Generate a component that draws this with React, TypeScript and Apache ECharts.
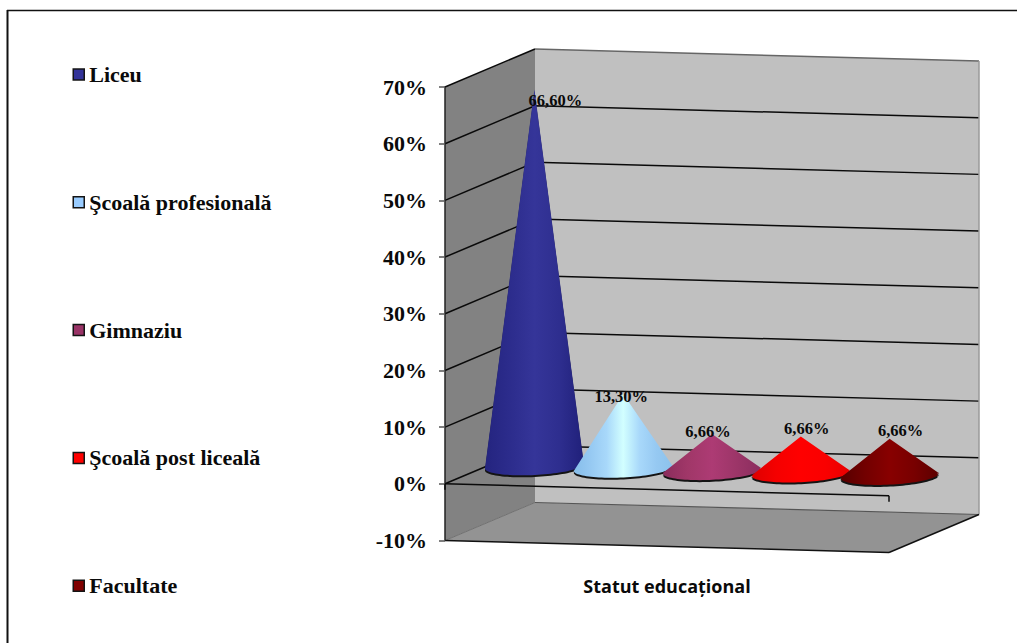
import React, { useEffect, useRef } from "react";
import * as echarts from "echarts";

const categories = ["Liceu", "Şcoală profesională", "Gimnaziu", "Şcoală post liceală", "Facultate"];
const values = [66.6, 13.3, 6.66, 6.66, 6.66];
const valueLabels = ["66,60%", "13,30%", "6,66%", "6,66%", "6,66%"];
const yTicks = [0, 10, 20, 30, 40, 50, 60];
const axisTitle = "Statut educațional";

const legendColors = ["#333399", "#99CCFF", "#993366", "#FF0000", "#800000"];
const coneStops = [
  ["#24247f", "#2c2c8c", "#353599", "#2e2e8f", "#20207a"],
  ["#86bdea", "#96c9f2", "#a8d8fa", "#d2ffff", "#a8d8fa", "#96c9f2", "#8cc2ec"],
  ["#8a2c5c", "#a03768", "#ad3b74", "#9c3568", "#8a2d5e"],
  ["#dd0000", "#f50000", "#ff0000", "#fa0000", "#e80000"],
  ["#560000", "#720000", "#880000", "#780000", "#5c0000"],
];
const labelShift = [[21, 11], [-2, 2], [-4, -3], [6, -8], [11, -8]];

const SERIF = '"Liberation Serif", "Times New Roman", serif';
const DEPTH_X = 90;
const DEPTH_Y = -38;
const SKEW = 12;
const CONE_RX = 49.5;
const CONE_RY = 9;
const CONE_TILT = -0.05;

function wallsRender(params: any, api: any) {
  const cs = params.coordSys;
  const L = cs.x;
  const R = cs.x + cs.width;
  const top = api.coord([0, 70])[1];
  const bot = api.coord([0, -10])[1];
  const poly = (pts: number[][], fill: any) => ({ type: "polygon", silent: true, shape: { points: pts }, style: { fill, stroke: "none" } });
  const line = (pts: number[][], stroke: string, lineWidth: number) => ({
    type: "polyline", silent: true, shape: { points: pts }, style: { stroke, lineWidth, fill: "none" },
  });
  const bL = L + DEPTH_X;
  const bR = R + DEPTH_X;
  const children: any[] = [
    poly([[L, top], [bL, top + DEPTH_Y], [bL, bot + DEPTH_Y], [L, bot]], "#828282"),
    poly([[bL, top + DEPTH_Y], [bR, top + DEPTH_Y + SKEW], [bR, bot + DEPTH_Y + SKEW], [bL, bot + DEPTH_Y]], "#c0c0c0"),
    poly([[L, bot], [bL, bot + DEPTH_Y], [bR, bot + DEPTH_Y + SKEW], [R, bot + SKEW]], "#939393"),
  ];
  yTicks.forEach((v) => {
    const y = api.coord([0, v])[1];
    children.push(line([[L, y], [bL, y + DEPTH_Y], [bR, y + DEPTH_Y + SKEW]], "#0a0a0a", 1.5));
  });
  children.push(
    line([[L, top], [bL, top + DEPTH_Y]], "#0a0a0a", 1.5),
    line([[bL, top + DEPTH_Y], [bR, top + DEPTH_Y + SKEW]], "#666666", 1.5),
    line([[bR, top + DEPTH_Y + SKEW], [bR, bot + DEPTH_Y + SKEW]], "#9a9a9a", 1.5),
    line([[L, bot], [bL, bot + DEPTH_Y]], "#707070", 1),
    line([[bL, bot + DEPTH_Y], [bR, bot + DEPTH_Y + SKEW]], "#555555", 1.2),
    line([[L, bot], [R, bot + SKEW]], "#111111", 1.5),
    line([[R, bot + SKEW], [bR, bot + DEPTH_Y + SKEW]], "#111111", 1.5),
  );
  return { type: "group", children };
}

function axisRender(params: any, api: any) {
  const cs = params.coordSys;
  const L = cs.x;
  const R = cs.x + cs.width;
  const y = api.coord([0, 0])[1];
  const line = (pts: number[][]) => ({
    type: "polyline", silent: true, shape: { points: pts }, style: { stroke: "#0a0a0a", lineWidth: 1.5, fill: "none" },
  });
  return {
    type: "group",
    children: [line([[L, y], [R, y + SKEW]]), line([[L, y], [L, y + 6]]), line([[R, y + SKEW], [R, y + SKEW + 6]])],
  };
}

function coneRender(index: number) {
  return (params: any, api: any) => {
    const frac = (index + 0.5) / categories.length;
    const shift = [DEPTH_X / 2, DEPTH_Y / 2 + SKEW * frac];
    const base = api.coord([index, 0]);
    const tip = api.coord([index, api.value(1)]);
    const cx = base[0] + shift[0];
    const cy = base[1] + shift[1];
    const ax = tip[0] + shift[0];
    const ay = tip[1] + shift[1] + 1;
    const cos = Math.cos(CONE_TILT);
    const sin = Math.sin(CONE_TILT);
    const pt = (t: number) => {
      const ex = CONE_RX * Math.cos(t);
      const ey = CONE_RY * Math.sin(t);
      return [cx + ex * cos - ey * sin, cy + ex * sin + ey * cos];
    };
    const steps = 96;
    const arc: number[][] = [];
    for (let i = 0; i < steps; i++) {
      const t = (i / steps) * 2 * Math.PI;
      const p = pt(t);
      const q = pt(t + 0.001);
      const cross = (q[0] - p[0]) * (p[1] - ay) - (q[1] - p[1]) * (p[0] - ax);
      if (cross < 0) arc.push(p);
    }
    arc.sort((a, b) => b[0] - a[0]);
    const outline: number[][] = [[ax, ay], ...arc];
    const stops = coneStops[index];
    const fill = {
      type: "linear", x: 0, y: 0, x2: 1, y2: 0,
      colorStops: stops.map((color, k) => ({ offset: k / (stops.length - 1), color })),
    };
    const rim = outline.map((p) => [p[0], p[1] + 2]);
    const children: any[] = [
      { type: "polygon", shape: { points: rim }, style: { fill: "#141414", stroke: "none" } },
      { type: "polygon", shape: { points: outline }, style: { fill, stroke: "none" } },
      {
        type: "text",
        style: {
          text: valueLabels[index],
          x: ax + labelShift[index][0],
          y: ay + labelShift[index][1],
          align: "center",
          verticalAlign: "middle",
          font: `bold 16.5px ${SERIF}`,
          fill: "#0a0a0a",
        },
      },
    ];
    return { type: "group", children };
  };
}

export default function App() {
  const ref = useRef<HTMLDivElement>(null);
  useEffect(() => {
    const chart = echarts.init(ref.current!, undefined, { renderer: "svg" });
    chart.setOption({
      animation: false,
      backgroundColor: "#ffffff",
      grid: { left: 445, top: 87, width: 444, height: 453.5, containLabel: false },
      legend: {
        orient: "vertical",
        left: 72.5,
        top: 63.5,
        padding: 0,
        itemWidth: 11,
        itemHeight: 11,
        itemGap: 105.8,
        selectedMode: false,
        textStyle: { fontFamily: SERIF, fontWeight: "bold", fontSize: 22, color: "#0a0a0a" },
        data: categories.map((name, i) => ({
          name,
          icon: "rect",
          itemStyle: { color: legendColors[i], borderColor: "#141414", borderWidth: 1.5 },
        })),
      },
      xAxis: {
        type: "category",
        data: categories,
        boundaryGap: true,
        axisLine: { show: false },
        axisTick: { show: false },
        axisLabel: { show: false },
        name: axisTitle,
        nameLocation: "middle",
        nameGap: 36,
        nameTextStyle: { fontFamily: '"Open Sans", sans-serif', fontWeight: "bold", fontSize: 18, color: "#0a0a0a" },
      },
      yAxis: {
        type: "value",
        min: -10,
        max: 70,
        interval: 10,
        splitLine: { show: false },
        axisLine: { show: true, lineStyle: { color: "#222222", width: 1.5 } },
        axisTick: { show: true, length: 6, lineStyle: { color: "#555555", width: 1.5 } },
        axisLabel: {
          formatter: "{value}%",
          margin: 18,
          padding: [0, 0, 2, 0],
          fontFamily: SERIF,
          fontWeight: "bold",
          fontSize: 22,
          color: "#0a0a0a",
        },
      },
      graphic: [
        { type: "line", silent: true, shape: { x1: 7.5, y1: 10, x2: 7.5, y2: 643 }, style: { stroke: "#111111", lineWidth: 2 } },
        { type: "line", silent: true, shape: { x1: 7, y1: 10.5, x2: 1017, y2: 10.5 }, style: { stroke: "#111111", lineWidth: 1.5 } },
      ],
      series: [
        { type: "custom", name: "__walls", silent: true, z: 0, renderItem: wallsRender, data: [[0, 0]], encode: { x: 0, y: 1 } },
        { type: "custom", name: "__axis", silent: true, z: 6, renderItem: axisRender, data: [[0, 0]], encode: { x: 0, y: 1 } },
        ...categories.map((name, i) => ({
          type: "custom",
          name,
          silent: true,
          z: 10 + i,
          itemStyle: { color: legendColors[i] },
          renderItem: coneRender(i),
          data: [[i, values[i]]],
          encode: { x: 0, y: 1 },
        })),
      ],
    });
    return () => chart.dispose();
  }, []);
  return <div ref={ref} style={{ position: "fixed", left: 0, top: 0, width: 1017, height: 643 }} />;
}
